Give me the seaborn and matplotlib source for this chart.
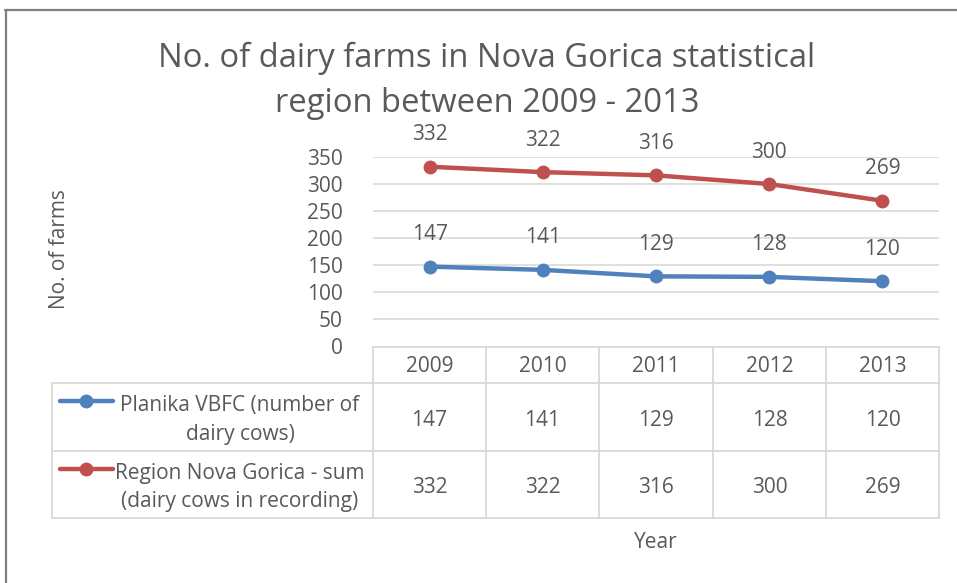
import matplotlib
matplotlib.use("Agg")
import matplotlib.pyplot as plt
from matplotlib.lines import Line2D
import seaborn as sns
import pandas as pd

years = ["2009", "2010", "2011", "2012", "2013"]
planika = [147, 141, 129, 128, 120]
region = [332, 322, 316, 300, 269]
series_names = ["Planika VBFC (number of\ndairy cows)",
                "Region Nova Gorica - sum\n(dairy cows in recording)"]
title = "No. of dairy farms in Nova Gorica statistical\nregion between 2009 - 2013"
y_ticks = [0, 50, 100, 150, 200, 250, 300, 350]

colors = ["#4F81BD", "#C0504D"]
txt = "#595959"
grid = "#D9D9D9"

sns.set_theme(style="white")
plt.rcParams["font.family"] = ["Open Sans", "DejaVu Sans"]

W, H = 957, 583
fig = plt.figure(figsize=(W / 100, H / 100), dpi=100)

def fx(px):
    return px / W

def fy(py):
    return 1 - py / H

# plot area
L, R, T, B = 373, 939, 157, 346
ax = fig.add_axes([fx(L), fy(B), fx(R) - fx(L), fy(T) - fy(B)])

df = pd.DataFrame({
    "idx": list(range(len(years))) * 2,
    "value": planika + region,
    "series": [series_names[0]] * len(years) + [series_names[1]] * len(years),
})
sns.lineplot(data=df, x="idx", y="value", hue="series", palette=colors,
             marker="o", markersize=10, markeredgewidth=0, linewidth=3.2,
             legend=False, ax=ax)
ax.set_xlim(-0.5, len(years) - 0.5)
ax.set_ylim(0, 350)
ax.set_yticks(y_ticks)
ax.set_yticklabels([str(t) for t in y_ticks], fontsize=15, color=txt)
ax.tick_params(axis="y", length=0, pad=22)
ax.set_xticks([])
ax.set_xlabel("")
ax.set_ylabel("")
for s in ax.spines.values():
    s.set_visible(False)
for t in y_ticks[1:]:
    ax.axhline(t, color=grid, lw=1.2, zorder=0)

for vals in (planika, region):
    for i, v in enumerate(vals):
        ax.annotate(str(v), (i, v), xytext=(0, 23), textcoords="offset points",
                    ha="center", va="center", fontsize=15, color=txt)

# title
fig.text(fx(487), fy(81), title, ha="center", va="center", fontsize=23.6,
         color=txt, linespacing=1.5)
# y label
fig.text(fx(60), fy(249), "No. of farms", rotation=90, ha="center",
         va="center", fontsize=15, color=txt)
# x label
fig.text(fx((L + R) / 2), fy(542), "Year", ha="center", va="center",
         fontsize=15, color=txt)

# data table
tab = fig.add_axes([0, 0, 1, 1], facecolor="none")
tab.set_xlim(0, W)
tab.set_ylim(H, 0)
tab.axis("off")
col_edges = [L, 486, 599, 713, 826, R]
row_edges = [347, 383, 451, 518]
TL = 52
lc = grid
lw = 1.3
tab.plot([L, R], [row_edges[0]] * 2, color=lc, lw=lw)
for r in row_edges[1:]:
    tab.plot([TL, R], [r, r], color=lc, lw=lw)
tab.plot([TL, TL], [row_edges[1], row_edges[3]], color=lc, lw=lw)
for c in col_edges:
    tab.plot([c, c], [row_edges[0], row_edges[3]], color=lc, lw=lw)
centers = [(col_edges[i] + col_edges[i + 1]) / 2 for i in range(len(years))]
dy = 3
hy = (row_edges[0] + row_edges[1]) / 2 + 2
for cx, yr in zip(centers, years):
    tab.text(cx, hy, yr, ha="center", va="center", fontsize=15, color=txt)
for ri, vals in enumerate((planika, region)):
    ry = (row_edges[ri + 1] + row_edges[ri + 2]) / 2 + dy
    for cx, v in zip(centers, vals):
        tab.text(cx, ry, str(v), ha="center", va="center", fontsize=15,
                 color=txt)
key_y = [401, 469]
for ri in range(2):
    tab.plot([60, 113], [key_y[ri]] * 2, color=colors[ri], lw=3.2,
             solid_capstyle="round")
    tab.plot([86], [key_y[ri]], marker="o", color=colors[ri], markersize=10,
             markeredgewidth=0)
    ry = (row_edges[ri + 1] + row_edges[ri + 2]) / 2 + dy
    tab.text(240, ry, series_names[ri], ha="center", va="center",
             fontsize=15, color=txt, linespacing=1.5, multialignment="center")

# outer frame
fig.add_artist(Line2D([fx(5), 1], [fy(10), fy(10)], color="#7F7F7F", lw=1.6))
fig.add_artist(Line2D([fx(6), fx(6)], [fy(10), 0], color="#7F7F7F", lw=1.6))

fig.savefig("out.png", dpi=100, facecolor="white")
